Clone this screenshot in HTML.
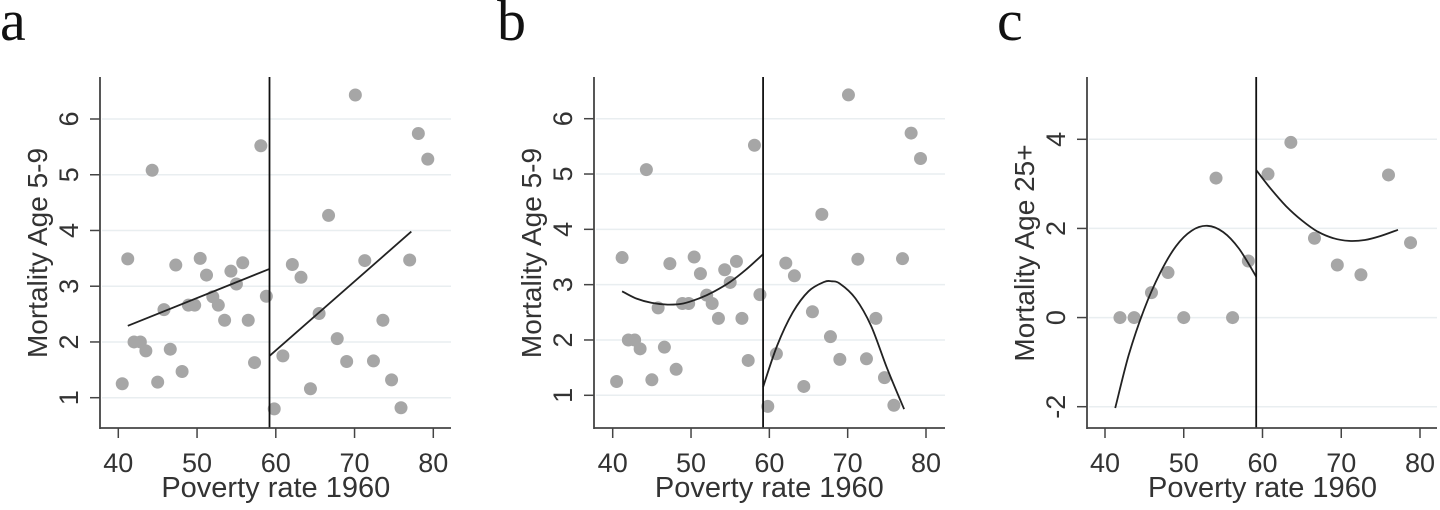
<!DOCTYPE html>
<html><head><meta charset="utf-8">
<style>
html,body{margin:0;padding:0;background:#fff;}
svg{display:block;font-family:"Liberation Sans",Arial,sans-serif;}
</style></head>
<body>
<svg id="chart" width="1440" height="510" viewBox="0 0 1440 510" xmlns="http://www.w3.org/2000/svg">
<text x="0" y="40" font-family="Liberation Serif,serif" font-size="58" fill="#111">a</text>
<text x="497" y="40" font-family="Liberation Serif,serif" font-size="58" fill="#111">b</text>
<text x="997" y="40" font-family="Liberation Serif,serif" font-size="58" fill="#111">c</text>
</svg>
<script>
// ---- data ----
const xTicks = [40, 50, 60, 70, 80];
const yTicksAB = [1, 2, 3, 4, 5, 6];
const yTicksC = [-2, 0, 2, 4];
const cutoff = 59.2;
const povertyAB = [40.5,41.2,42.0,42.8,43.5,44.3,45.0,45.8,46.6,47.3,48.1,48.9,49.7,50.4,51.2,52.0,52.7,53.5,54.3,55.0,55.8,56.5,57.3,58.1,58.8,59.8,60.9,62.1,63.2,64.4,65.5,66.7,67.8,69.0,70.1,71.3,72.4,73.6,74.7,75.9,77.0,78.1,79.3];
const mortality59 = [1.25,3.49,2.0,2.0,1.84,5.08,1.28,2.58,1.87,3.38,1.47,2.66,2.66,3.5,3.2,2.81,2.66,2.39,3.27,3.04,3.42,2.39,1.63,5.52,2.82,0.80,1.75,3.39,3.16,1.16,2.51,4.27,2.06,1.65,6.43,3.46,1.66,2.39,1.32,0.82,3.47,5.74,5.28];
// panel a linear fits
const fitALeftX = [41.2, 59.2];
const fitALeftY = [2.29, 3.31];
const fitARightX = [59.2, 77.2];
const fitARightY = [1.75, 3.98];
// panel b quadratic fits (sampled)
const fitBLeftX = [41.2,43,45,47,49,51,53,55,57,59.2];
const fitBLeftY = [2.88,2.75,2.67,2.64,2.66,2.75,2.88,3.05,3.27,3.55];
const fitBRightX = [59.2,61,63,65,67,68,69,71,73,75,77.2];
const fitBRightY = [1.15,1.9,2.5,2.88,3.05,3.06,3.02,2.75,2.25,1.5,0.75];
// panel c
const povertyC = [41.9,43.7,45.9,48.0,50.0,54.1,56.2,58.2,60.7,63.6,66.6,69.5,72.5,76.0,78.8];
const mortality25 = [0,0,0.56,1.01,0,3.13,0,1.27,3.22,3.93,1.78,1.18,0.96,3.2,1.68];
const fitCLeftX = [41.3,43,45,47,49,51,53,55,57,59.2];
const fitCLeftY = [-2.03,-0.85,0.2,1.0,1.6,1.95,2.06,1.92,1.55,0.92];
const fitCRightX = [59.2,61,63,65,67,69,71,73,75,77.2];
const fitCRightY = [3.31,2.9,2.5,2.18,1.93,1.78,1.72,1.74,1.83,1.97];

const NS = "http://www.w3.org/2000/svg";
const svg = document.getElementById('chart');
function mk(tag, attrs, parent){
  const e = document.createElementNS(NS, tag);
  for (const k in attrs) e.setAttribute(k, attrs[k]);
  (parent||svg).appendChild(e);
  return e;
}
function smoothPath(pts){
  if (pts.length < 3) return 'M' + pts.map(p => p[0].toFixed(1) + ',' + p[1].toFixed(1)).join(' L');
  let d = 'M' + pts[0][0].toFixed(1) + ',' + pts[0][1].toFixed(1);
  for (let i = 0; i < pts.length - 1; i++){
    const p0 = pts[Math.max(0, i-1)], p1 = pts[i], p2 = pts[i+1], p3 = pts[Math.min(pts.length-1, i+2)];
    const c1x = p1[0] + (p2[0]-p0[0])/6, c1y = p1[1] + (p2[1]-p0[1])/6;
    const c2x = p2[0] - (p3[0]-p1[0])/6, c2y = p2[1] - (p3[1]-p1[1])/6;
    d += ' C' + c1x.toFixed(1)+','+c1y.toFixed(1)+' '+c2x.toFixed(1)+','+c2y.toFixed(1)+' '+p2[0].toFixed(1)+','+p2[1].toFixed(1);
  }
  return d;
}

function panel(cfg){
  const g = mk('g', {});
  
  
  const xs = v => cfg.x40 + (v - 40) * (cfg.x80 - cfg.x40) / 40;
  const ys = v => cfg.yA + (v - cfg.vA) * (cfg.yB - cfg.yA) / (cfg.vB - cfg.vA);
  const top = 77, bottom = 428;
  cfg.yTicks.forEach(t => {
    const l = mk('line', {x1: cfg.axisX + 2, x2: cfg.right, y1: ys(t), y2: ys(t), stroke: '#e9eef0', 'stroke-width': 1.5}, g);
    
    
  });
  cfg.px.forEach((v, i) => {
    const c = mk('circle', {cx: xs(v), cy: ys(cfg.py[i]), r: 6.5, fill: '#a6a6a6'}, g);
    
    
  });
  cfg.fits.forEach((f, k) => {
    const pts = f[0].map((v, i) => [xs(v), ys(f[1][i])]);
    const p = mk('path', {d: smoothPath(pts), fill: 'none', stroke: '#222', 'stroke-width': 1.8}, g);
    
    
  });
  const cl = mk('line', {x1: xs(cutoff), x2: xs(cutoff), y1: top, y2: bottom, stroke: '#111', 'stroke-width': 1.8}, g);
  
  
  const ya = mk('line', {x1: cfg.axisX, x2: cfg.axisX, y1: top, y2: bottom + 1, stroke: '#444', 'stroke-width': 1.8}, g);
  
  
  const xa = mk('line', {x1: cfg.axisX, x2: cfg.right, y1: bottom, y2: bottom, stroke: '#444', 'stroke-width': 1.8}, g);
  
  
  xTicks.forEach(t => {
    const tk = mk('line', {x1: xs(t), x2: xs(t), y1: bottom, y2: bottom + 10, stroke: '#444', 'stroke-width': 1.5}, g);
    
    
    const tl = mk('text', {x: xs(t), y: bottom + 44, 'text-anchor': 'middle', 'font-size': 27, fill: '#333'}, g);
    tl.textContent = t;
    
    
  });
  cfg.yTicks.forEach(t => {
    const tk = mk('line', {x1: cfg.axisX - 10, x2: cfg.axisX, y1: ys(t), y2: ys(t), stroke: '#444', 'stroke-width': 1.5}, g);
    
    
    const lx = cfg.axisX - 22;
    const tl = mk('text', {x: lx, y: ys(t), 'text-anchor': 'middle', 'font-size': 27, fill: '#333', transform: 'rotate(-90 ' + lx + ' ' + ys(t) + ')'}, g);
    tl.textContent = t;
    
    
  });
  const xt = mk('text', {x: (cfg.x40 + cfg.x80) / 2, y: 497, 'text-anchor': 'middle', 'font-size': 29, fill: '#333'}, g);
  xt.textContent = 'Poverty rate 1960';
  
  
  const tx = cfg.axisX - 53, ty = 253;
  const yt = mk('text', {x: tx, y: ty, 'text-anchor': 'middle', 'font-size': 28, fill: '#333', transform: 'rotate(-90 ' + tx + ' ' + ty + ')'}, g);
  yt.textContent = cfg.ytitle;
  
  
}

panel({id:'a', axisX:100, right:451, x40:118.3, x80:433.3, vA:6, yA:119, vB:1, yB:397.7,
  yTicks:yTicksAB, px:povertyAB, py:mortality59, ytitle:'Mortality Age 5-9',
  fits:[[fitALeftX, fitALeftY],[fitARightX, fitARightY]]});
panel({id:'b', axisX:594, right:945, x40:612.7, x80:926, vA:6, yA:118.7, vB:1, yB:395.3,
  yTicks:yTicksAB, px:povertyAB, py:mortality59, ytitle:'Mortality Age 5-9',
  fits:[[fitBLeftX, fitBLeftY],[fitBRightX, fitBRightY]]});
panel({id:'c', axisX:1087, right:1437, x40:1105, x80:1420, vA:4, yA:139.3, vB:-2, yB:406.7,
  yTicks:yTicksC, px:povertyC, py:mortality25, ytitle:'Mortality Age 25+',
  fits:[[fitCLeftX, fitCLeftY],[fitCRightX, fitCRightY]]});
</script>
</body></html>
